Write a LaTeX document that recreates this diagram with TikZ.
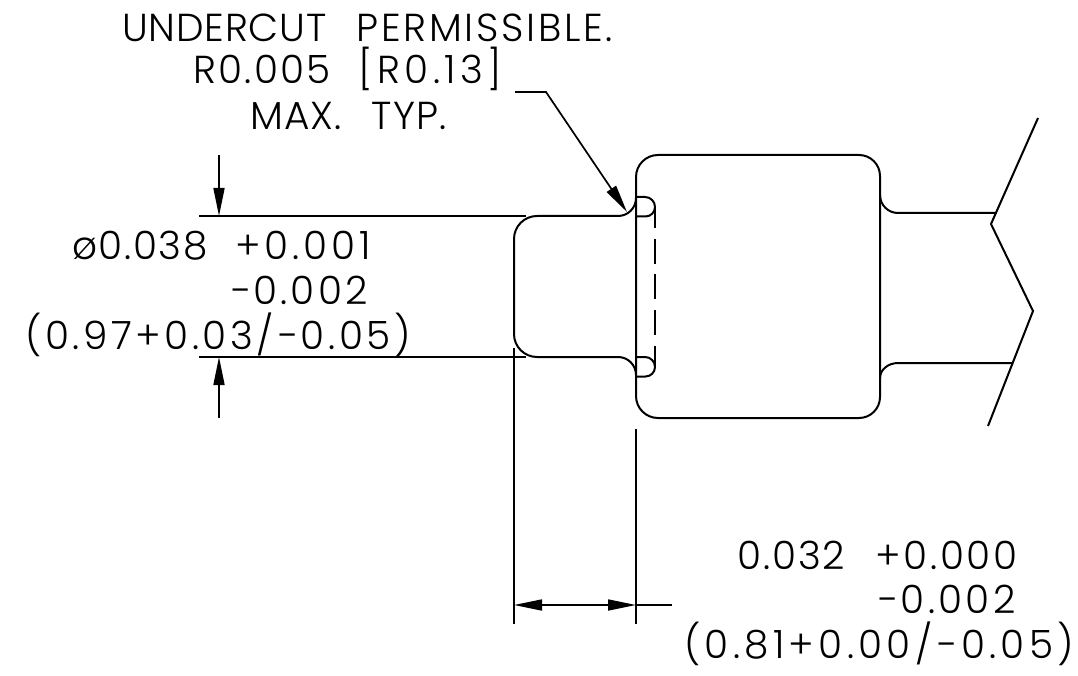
\documentclass[tikz,border=0pt]{standalone}
\usepackage{fontspec}
\setmainfont{Poppins Light}
\usetikzlibrary{arrows.meta}

\newcommand{\spaced}[2]{{\addfontfeature{LetterSpace=#1}#2}}

\begin{document}
\begin{tikzpicture}[x=1pt,y=-1pt]
        \tikzstyle{every node}=[inner sep=0pt, anchor=base west, font=\fontsize{39}{42}\selectfont, text=black]
        \tikzstyle{part}=[black, line width=2pt]
        \tikzstyle{dim}=[black, line width=1.7pt]
        \tikzstyle{dimarrow}=[dim, -{Triangle[length=28pt,width=11pt]}]

        \useasboundingbox (0,0) rectangle (1078,676);

        % labels
        \node (note1) at (122,42) {\spaced{2}{UNDERCUT}\hspace{30pt}\spaced{7}{PERMISSIBLE.}};
        \node (note2) at (193,84) {\spaced{6}{R0.005}\hspace{28pt}\spaced{11}{[R0.13]}};
        \node (note3) at (250,130) {\spaced{3}{MAX.}\hspace{30pt}\spaced{3}{TYP.}};
        \node (dia1) at (72,260) {\spaced{4}{ø0.038}\hspace{28pt}\spaced{10}{+0.001}};
        \node (dia2) at (230,304) {\spaced{8}{−0.002}};
        \node (dia3) at (25,349) {\spaced{9}{(0.97+0.03/−0.05)}};
        \node (len1) at (737,569) {\spaced{5}{0.032}\hspace{30pt}\spaced{7}{+0.000}};
        \node (len2) at (877,613) {\spaced{8.5}{−0.002}};
        \node (len3) at (684,658) {\spaced{11}{(0.81+0.00/−0.05)}};

        % points
        \coordinate (leadA) at (515,92);
        \coordinate (leadB) at (546,92);
        \coordinate (leadC) at (627,212);
        \coordinate (topA) at (199,216);
        \coordinate (topB) at (526,216);
        \coordinate (botA) at (199,357);
        \coordinate (botB) at (526,357);
        \coordinate (arrA) at (219,155);
        \coordinate (arrAend) at (219,216);
        \coordinate (arrB) at (219,418);
        \coordinate (arrBend) at (219,357);
        \coordinate (extA) at (514,348);
        \coordinate (extAend) at (514,624);
        \coordinate (extB) at (636,429);
        \coordinate (extBend) at (636,624);
        \coordinate (lenA) at (514,605);
        \coordinate (lenB) at (636,605);
        \coordinate (lenC) at (672,605);

        % pin
        \draw[part] (537,216) -- (618,216) arc (90:0:18);
        \draw[part] (537,216) arc (-90:-180:23) -- (514,334) arc (180:90:23) -- (618,357) arc (-90:0:18);

        % head
        \draw[part] (658,155) -- (859,155) arc (-90:0:21) -- (880,397) arc (0:90:21) -- (658,418) arc (90:180:22) -- (636,177) arc (180:270:22);

        % undercut
        \draw[part] (636,197) -- (645,197) arc (-90:0:10) arc (0:90:9.5) -- (636,216.5);
        \draw[part] (636,357) -- (645,357) arc (-90:0:10) arc (0:90:9.5) -- (636,376.5);
        \draw[part, dash pattern=on 25pt off 10.67pt, dash phase=4pt] (655,207) -- (655,367);

        % shaft
        \draw[part] (880,195) arc (180:90:18) -- (996,213);
        \draw[part] (880,378) arc (180:270:18 and 15) -- (1013,363);
        \draw[part] (1038,118) -- (991,224) -- (1033,311) -- (988,426);

        % dimensions
        \draw[dim] (topA) -- (topB);
        \draw[dim] (botA) -- (botB);
        \draw[dimarrow] (arrA) -- (arrAend);
        \draw[dimarrow] (arrB) -- (arrBend);
        \draw[dim] (extA) -- (extAend);
        \draw[dim] (extB) -- (extBend);
        \draw[dim, {Triangle[length=28pt,width=11pt]}-{Triangle[length=28pt,width=11pt]}] (lenA) -- (lenB);
        \draw[dim] (lenB) -- (lenC);
        \draw[dimarrow] (leadA) -- (leadB) -- (leadC);
    \end{tikzpicture}
\end{document}
